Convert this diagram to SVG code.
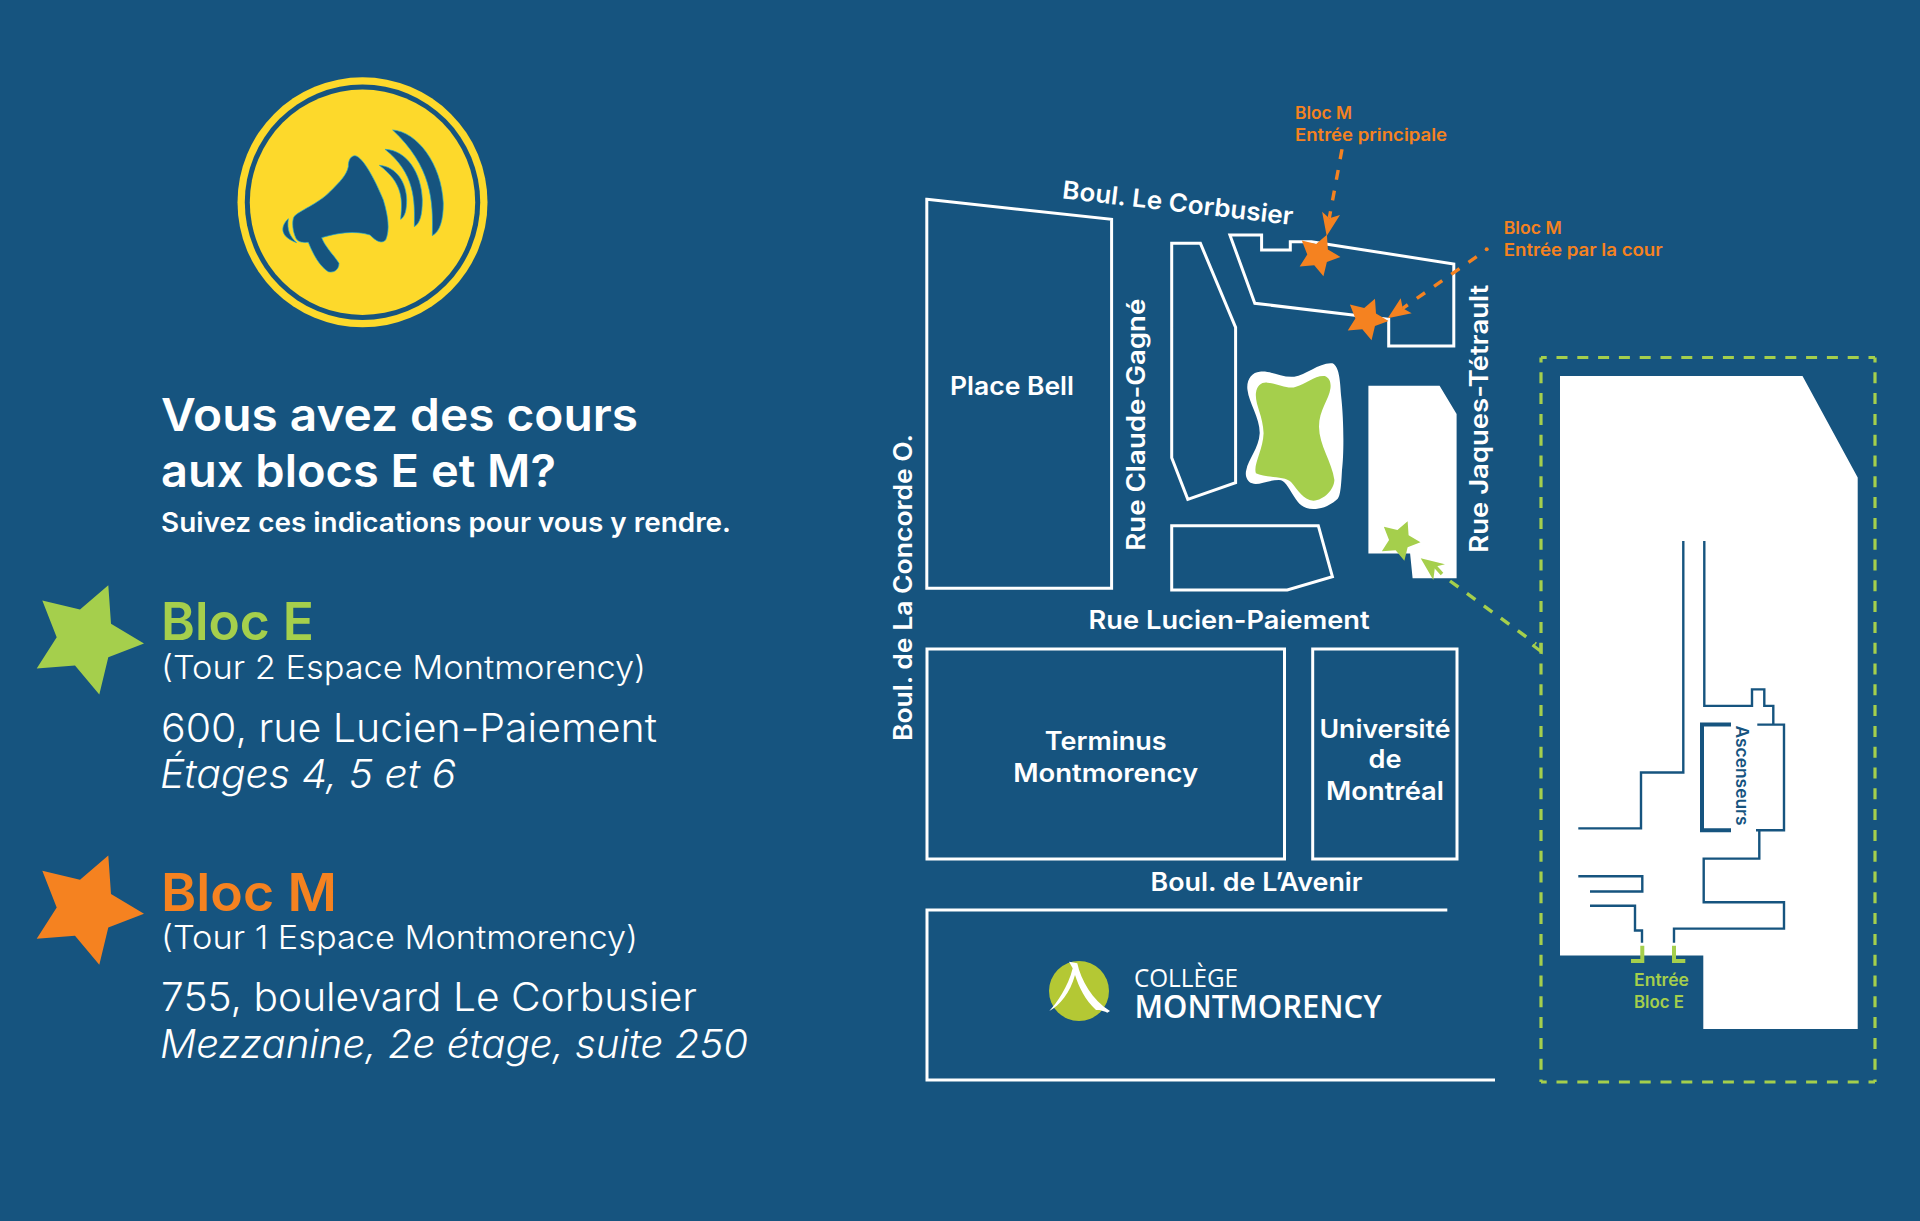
<svg xmlns="http://www.w3.org/2000/svg" width="1920" height="1221" viewBox="0 0 1920 1221">
<style>
text{font-family:"Inter","Noto Sans","Liberation Sans",sans-serif;fill:#fff;font-weight:500}
.h{font-size:45px;font-weight:600}
.sub{font-size:27px;font-weight:600}
.bloc{font-size:52px;font-weight:600}
.par{font-size:32px;font-weight:300}
.addr{font-size:39px;font-weight:300}
.it{font-size:39px;font-weight:300;font-style:italic}
.st{font-size:25px;font-weight:600}
.lb{font-size:17px;font-weight:600}
.o{fill:#f58220}.g{fill:#a5cf4c}
.bld{fill:none;stroke:#fff;stroke-width:3}
.wall{fill:none;stroke:#16547f;stroke-width:2.4}
.ent{fill:none;stroke:#a5cf4c;stroke-width:4}
.dashO{fill:none;stroke:#f58220;stroke-width:3.4;stroke-dasharray:10 11}
.dashG{fill:none;stroke:#a5cf4c;stroke-width:3.4;stroke-dasharray:10.5 10.5}
.box{fill:none;stroke:#a5cf4c;stroke-width:3.2;stroke-dasharray:11 9.8}
.mega{fill:#16547f;stroke:#1ba7d6;stroke-width:2}
</style>
<defs>
<polygon id="star" points="22.3,-53.3 25,-14.7 58,5 22.3,18.7 13.3,56 -11,27 -49.3,30 -29.3,-1.3 -43.7,-38 -6,-29"/>
</defs>
<rect width="1920" height="1221" fill="#16547f"/>

<g id="badge">
<circle cx="362.5" cy="202.3" r="125" fill="#fdd92b"/>
<circle cx="362.5" cy="202.3" r="117.7" fill="#16547f"/>
<circle cx="362.5" cy="202.3" r="112.7" fill="#fdd92b"/>
<g transform="translate(220 60) scale(.3333)">
<path class="mega" d="M405,287C430,290 470,370 490,420C505,470 510,510 497,540C485,552 470,545 450,525C400,510 350,520 305,533C315,560 345,590 357,610C357,630 340,640 325,635C300,620 280,585 265,547C250,548 235,548 228,535C218,515 215,485 222,470C240,450 290,435 330,395C360,365 380,345 385,320C385,300 392,288 405,287Z"/>
<path class="mega" d="M205,476C180,500 180,530 230,548C210,530 200,510 205,476Z"/>
<path class="mega" d="M478,316C530,320 560,370 560,420C560,450 555,470 542,478C548,420 550,370 478,316Z"/>
<path class="mega" d="M495,268C560,270 605,340 607,420C607,465 600,490 583,500C585,420 585,340 495,268Z"/>
<path class="mega" d="M518,210C590,215 665,310 670,430C670,480 660,515 637,527C640,420 635,320 518,210Z"/>
</g>
</g>

<g id="intro">
<text class="h" x="161" y="430.5" textLength="477" lengthAdjust="spacingAndGlyphs">Vous avez des cours</text>
<text class="h" x="161" y="486.5" textLength="395" lengthAdjust="spacingAndGlyphs">aux blocs E et M?</text>
<text class="sub" x="161" y="532" textLength="570" lengthAdjust="spacingAndGlyphs">Suivez ces indications pour vous y rendre.</text>
</g>

<g id="legend-bloc-e">
<use href="#star" x="86" y="638.5" class="g"/>
<text class="bloc g" x="161" y="640" textLength="153" lengthAdjust="spacingAndGlyphs">Bloc E</text>
<text class="par" x="161" y="679" textLength="485" lengthAdjust="spacingAndGlyphs">(Tour 2 Espace Montmorency)</text>
<text class="addr" x="161" y="741.5" textLength="496" lengthAdjust="spacingAndGlyphs">600, rue Lucien-Paiement</text>
<text class="it" x="160" y="788" textLength="296" lengthAdjust="spacingAndGlyphs">Étages 4, 5 et 6</text>
</g>

<g id="legend-bloc-m">
<use href="#star" x="86" y="908.8" class="o"/>
<text class="bloc o" x="161" y="911" textLength="176" lengthAdjust="spacingAndGlyphs">Bloc M</text>
<text class="par" x="161" y="949" textLength="477" lengthAdjust="spacingAndGlyphs">(Tour 1 Espace Montmorency)</text>
<text class="addr" x="161" y="1011" textLength="536" lengthAdjust="spacingAndGlyphs">755, boulevard Le Corbusier</text>
<text class="it" x="160" y="1058" textLength="588" lengthAdjust="spacingAndGlyphs">Mezzanine, 2e étage, suite 250</text>
</g>

<g id="place-bell">
<polygon class="bld" points="926.8,199.3 1111.6,219.3 1111.6,588.3 926.8,588.3"/>
<text class="st" x="950" y="395" textLength="124" lengthAdjust="spacingAndGlyphs">Place Bell</text>
</g>
<g id="block-claude-gagne"><polygon class="bld" points="1171.7,243.3 1200.4,243.3 1235.6,327.3 1235.6,482.7 1187.8,499.3 1171.7,457.7"/></g>
<g id="block-south"><polygon class="bld" points="1171.7,525.7 1318.3,525.7 1332.4,576.7 1287.3,590 1171.7,590"/></g>
<g id="building-m"><polygon class="bld" points="1229.9,235 1261.6,235 1261.6,250 1290.3,250 1290.3,241.7 1311.4,241.7 1453.8,264 1453.8,346 1388.7,346 1388.7,319.3 1254.8,303.3"/></g>
<g id="pond">
<path fill="#fff" d="M1332.4,363.3C1338,366 1340,375 1341,395C1344,420 1344,455 1342,470C1341,490 1340,498 1336.3,500C1328,507 1320,509 1313.3,509C1303,509 1298,503 1294.2,496.7C1288,487 1285,480 1278.9,480C1268,480 1258,486 1252.1,483.3C1246,481 1245,474 1246.3,470C1248,460 1259,448 1259.7,433.3C1260,418 1249,403 1247.5,390C1246,380 1252,372 1259.7,371.7C1270,370 1282,378 1294.2,376.7C1306,375 1320,362 1332.4,363.3Z"/>
<path fill="#a5cf4c" d="M1324.8,376C1330,378 1331,383 1330.5,388C1329,400 1319,410 1319,426.7C1319,445 1332,462 1334.4,480C1334,490 1324,500 1313.3,500.7C1303,500 1298,490 1291,482C1285,476 1265,478 1255.9,473.3C1253,465 1263,450 1263.6,433.3C1263,415 1255,405 1255.9,393.3C1257,385 1262,382 1267.4,382.7C1278,383 1288,390 1296,386.7C1306,384 1315,375 1324.8,376Z"/>
</g>
<g id="building-e-small"><polygon fill="#fff" points="1368.4,385.7 1439.6,385.7 1456.6,414 1456.6,578.3 1412.6,578.3 1410.1,553.5 1368.4,553.5"/></g>
<g id="terminus">
<rect class="bld" x="927" y="649" width="357.5" height="210"/>
<text class="st" x="1105.7" y="750" text-anchor="middle" textLength="122" lengthAdjust="spacingAndGlyphs">Terminus</text>
<text class="st" x="1105.7" y="781.5" text-anchor="middle" textLength="185" lengthAdjust="spacingAndGlyphs">Montmorency</text>
</g>
<g id="universite">
<rect class="bld" x="1312.7" y="649" width="144.3" height="210"/>
<text class="st" x="1385" y="737.5" text-anchor="middle" textLength="131" lengthAdjust="spacingAndGlyphs">Université</text>
<text class="st" x="1385" y="768" text-anchor="middle" textLength="33" lengthAdjust="spacingAndGlyphs">de</text>
<text class="st" x="1385" y="799.5" text-anchor="middle" textLength="118" lengthAdjust="spacingAndGlyphs">Montréal</text>
</g>
<g id="college">
<polyline class="bld" points="1447.3,910 927,910 927,1080 1495,1080"/>
<circle cx="1079" cy="991" r="30" fill="#b4c834"/>
<path fill="#fff" d="M1069,961.7L1077.3,963.3C1081,980 1092,1000 1110,1011L1107.3,1012.7C1102,1010 1098,1010 1096,1010C1085,1000 1079,987 1075,975C1070,993 1060,1005 1049.3,1011C1057,1003 1068,987 1072.7,968.3Z"/>
<text style="font-family:'Open Sans','Noto Sans',sans-serif"><tspan x="1134" y="986.8" font-size="25" font-weight="400" textLength="104" lengthAdjust="spacingAndGlyphs" style="font-weight:400">COLLÈGE</tspan><tspan x="1134.5" y="1018" font-size="33" textLength="247" lengthAdjust="spacingAndGlyphs" style="font-weight:600">MONTMORENCY</tspan></text>
</g>

<g id="streets">
<text class="st" transform="translate(1061.6 198.3) rotate(6.6)" textLength="232" lengthAdjust="spacingAndGlyphs">Boul. Le Corbusier</text>
<text class="st" transform="translate(1145 550.7) rotate(-90)" textLength="252" lengthAdjust="spacingAndGlyphs">Rue Claude-Gagné</text>
<text class="st" transform="translate(1488 552.7) rotate(-90)" textLength="268" lengthAdjust="spacingAndGlyphs">Rue Jaques-Tétrault</text>
<text class="st" transform="translate(912 741) rotate(-90)" textLength="307" lengthAdjust="spacingAndGlyphs">Boul. de La Concorde O.</text>
<text class="st" x="1088.6" y="629" textLength="281" lengthAdjust="spacingAndGlyphs">Rue Lucien-Paiement</text>
<text class="st" x="1150.5" y="890.5" textLength="212" lengthAdjust="spacingAndGlyphs">Boul. de L’Avenir</text>
</g>

<g id="detail-plan">
<polygon fill="#fff" points="1560,376 1802.5,376 1857.7,477.5 1857.7,1029 1703.3,1029 1703.3,955.4 1560,955.4"/>
<polyline class="wall" points="1683.3,541 1683.3,772.5 1641,772.5 1641,828.4 1578.3,828.4"/>
<polyline class="wall" points="1704.3,541 1704.3,705.9 1752,705.9 1752,689.4 1764.3,689.4 1764.3,705.9 1773.3,705.9 1773.3,723.9"/>
<polyline class="wall" points="1757.3,724.6 1784,724.6 1784,830.3 1756,830.3"/>
<polyline class="wall" points="1759.3,830.3 1759.3,858.6 1703.7,858.6 1703.7,902.2 1784,902.2 1784,928.6 1674,928.6 1674,942.8"/>
<polyline class="wall" points="1578.3,876.2 1642.3,876.2 1642.3,891.5 1590,891.5"/>
<polyline class="wall" points="1590,905.7 1635,905.7 1635,930.5 1642,930.5 1642,942.8"/>
<polyline fill="none" stroke="#16547f" stroke-width="4" points="1731,724.6 1702,724.6 1702,830.3 1731,830.3"/>
<text transform="translate(1735.7 725.5) rotate(90)" font-size="17" textLength="100" lengthAdjust="spacingAndGlyphs" style="fill:#16547f;font-weight:600">Ascenseurs</text>
<polyline class="ent" points="1642.3,945.8 1642.3,961 1631,961"/>
<polyline class="ent" points="1674,945.8 1674,961 1685.3,961"/>
<text class="lb g" x="1634" y="986" textLength="55" lengthAdjust="spacingAndGlyphs">Entrée</text>
<text class="lb g" x="1634" y="1007.5" textLength="50" lengthAdjust="spacingAndGlyphs">Bloc E</text>
</g>

<g id="marker-m-main"><use href="#star" transform="translate(1318.4 255) scale(.38)" class="o"/></g>
<g id="marker-m-court"><use href="#star" transform="translate(1366.5 319) scale(.38)" class="o"/></g>
<g id="marker-e"><use href="#star" transform="translate(1399.6 540.5) scale(.36)" class="g"/></g>

<g id="labels">
<text class="lb o" x="1295" y="119.3" textLength="57" lengthAdjust="spacingAndGlyphs">Bloc M</text>
<text class="lb o" x="1295" y="140.7" textLength="152" lengthAdjust="spacingAndGlyphs">Entrée principale</text>
<text class="lb o" x="1503.7" y="234" textLength="58" lengthAdjust="spacingAndGlyphs">Bloc M</text>
<text class="lb o" x="1503.7" y="255.5" textLength="159" lengthAdjust="spacingAndGlyphs">Entrée par la cour</text>
</g>

<g id="connectors">
<line class="box" x1="1541" y1="357.5" x2="1541" y2="1082" stroke-dashoffset="6"/>
<line class="box" x1="1875" y1="357.5" x2="1875" y2="1082" stroke-dashoffset="6"/>
<line class="box" x1="1541" y1="1082" x2="1875" y2="1082" stroke-dashoffset="5.3"/>
<line class="box" x1="1541" y1="357.5" x2="1875" y2="357.5" stroke-dashoffset="5.3"/>
<line class="dashO" x1="1342" y1="149.3" x2="1329.3" y2="218"/>
<polygon class="o" points="1326.7,236 1322.1,211.7 1329.3,218.3 1340,215"/>
<circle class="o" cx="1486.7" cy="249.3" r="2"/>
<line class="dashO" x1="1476.7" y1="256.7" x2="1402.7" y2="308.3"/>
<polygon class="o" points="1387.7,318.3 1400.7,298.3 1402.7,308.3 1411.7,313.3"/>
<line class="dashG" x1="1450" y1="581" x2="1536" y2="644"/>
<polyline fill="none" stroke="#a5cf4c" stroke-width="3" points="1532.5,645 1541,651.5 1541,643"/>
<polygon class="g" points="1420.7,558.3 1445,564.3 1435,566.7 1433.3,580"/>
<line stroke="#a5cf4c" stroke-width="3.4" x1="1433" y1="564" x2="1442" y2="574"/>
</g>
</svg>
